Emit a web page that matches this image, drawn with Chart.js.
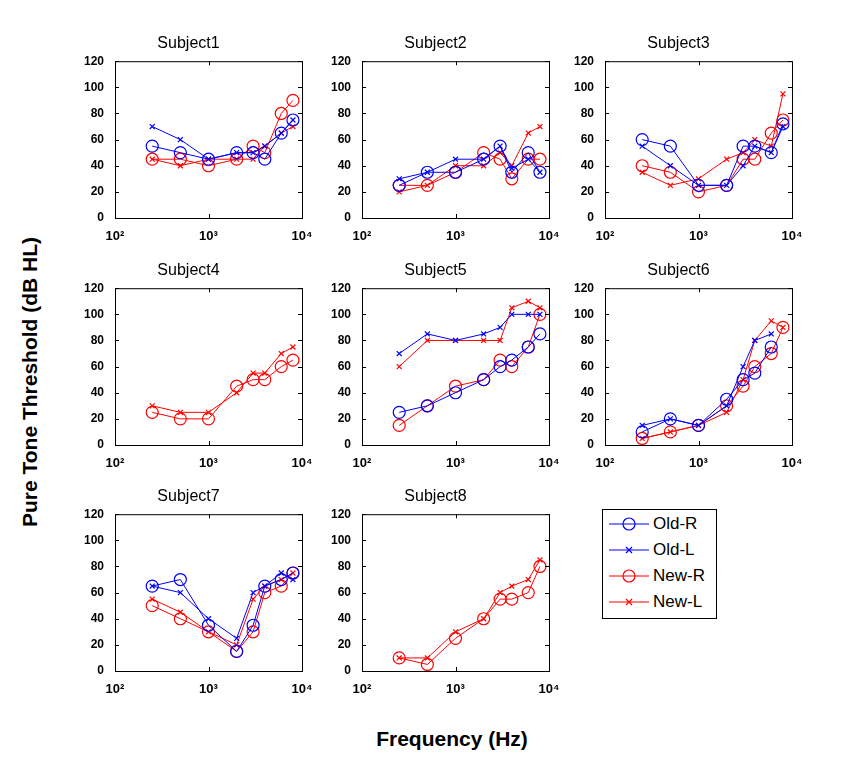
<!DOCTYPE html>
<html><head><meta charset="utf-8">
<script src="https://cdn.jsdelivr.net/npm/chart.js@4/dist/chart.umd.min.js"></script>
<style>
body{margin:0;background:#fff;font-family:Arial,"Liberation Sans",sans-serif;}
.p{position:absolute;}
#ylab{position:absolute;left:-120px;top:370px;width:300px;text-align:center;transform:rotate(-90deg);font-weight:bold;font-size:21px;}
#xlab{position:absolute;left:302px;top:727px;width:300px;text-align:center;font-weight:bold;font-size:21px;}
#leg{position:absolute;left:602px;top:509px;width:113px;height:108px;border:1px solid #000;font-size:17px;}
#leg div{height:24px;margin-top:2px;display:flex;align-items:center;}
#leg svg{margin:0 4px 0 6px}
</style></head><body>
<div id="ylab">Pure Tone Threshold (dB HL)</div>
<div id="xlab">Frequency (Hz)</div>
<div id="leg"></div>
<script>
const freqs = [250, 500, 1000, 2000, 3000, 4000, 6000, 8000];
const subjects = ["Subject1","Subject2","Subject3","Subject4","Subject5","Subject6","Subject7","Subject8"];
const oldR = [
  [55,50,45,50,50,45,65,75],[25,35,35,45,55,35,50,35],[60,55,25,25,55,55,50,72],null,
  [25,30,40,50,60,65,75,85],[10,20,15,35,50,55,75,null],[65,70,35,15,35,65,70,75],null];
const oldL = [
  [70,60,45,50,50,55,65,75],[30,35,45,45,55,38,45,35],[55,40,25,25,40,55,50,70],null,
  [70,85,80,85,90,100,100,100],[15,20,15,30,60,80,85,null],[65,60,40,25,60,65,75,70],null];
const newR = [
  [45,45,40,45,55,50,80,90],[25,25,35,50,45,30,45,45],[40,35,20,25,45,45,65,75],[25,20,20,45,50,50,60,65],
  [15,30,45,50,65,60,75,100],[5,10,15,30,45,60,70,90],[50,40,30,15,30,60,65,75],[10,5,25,40,55,55,60,80]];
const newL = [
  [45,40,45,45,45,55,65,70],[20,25,40,40,50,40,65,70],[35,25,30,45,50,60,55,95],[30,25,25,40,55,55,70,75],
  [60,80,80,80,80,105,110,105],[5,10,15,25,50,80,95,90],[55,45,30,20,55,65,70,75],[10,10,30,40,60,65,70,85]];
const seriesNames = ["Old-R","Old-L","New-R","New-L"];
const colors = ["#0000ff","#0000ff","#ff0000","#ff0000"];
const styles = ["circle","crossRot","circle","crossRot"];
const radii = [6,3.5,6,3.5];
const xTickText = {100:"10²",1000:"10³",10000:"10⁴"};

const positions = [[75,30],[322,30],[565,30],[75,257],[322,257],[565,257],[75,483],[322,483]];

const boxPlugin = {
  id:"box",
  afterDraw(c){
    const a=c.chartArea, ctx=c.ctx;
    ctx.save();ctx.strokeStyle="#000";ctx.lineWidth=1;
    ctx.strokeRect(a.left+0.5,a.top+0.5,a.right-a.left,a.bottom-a.top);
    const ys=c.scales.y, xs=c.scales.x;
    ctx.beginPath();
    for(let v=0;v<=120;v+=20){const y=Math.round(ys.getPixelForValue(v))+0.5;
      ctx.moveTo(a.left,y);ctx.lineTo(a.left+4,y);ctx.moveTo(a.right,y);ctx.lineTo(a.right-4,y);}
    [100,1000,10000].forEach(v=>{const x=Math.round(xs.getPixelForValue(v))+0.5;
      ctx.moveTo(x,a.bottom);ctx.lineTo(x,a.bottom-4);ctx.moveTo(x,a.top);ctx.lineTo(x,a.top+4);});
    ctx.stroke();ctx.restore();
  }
};

subjects.forEach((name,i)=>{
  const cv=document.createElement("canvas");
  cv.className="p";cv.width=241;cv.height=216;
  cv.style.left=positions[i][0]+"px";cv.style.top=positions[i][1]+"px";
  document.body.appendChild(cv);
  const all=[oldR[i],oldL[i],newR[i],newL[i]];
  const datasets=[];
  all.forEach((vals,k)=>{
    if(!vals) return;
    datasets.push({label:seriesNames[k],
      data:freqs.map((f,j)=>({x:f,y:vals[j]})).filter(p=>p.y!==null),
      borderColor:colors[k],backgroundColor:"transparent",borderWidth:1,
      pointStyle:styles[k],pointRadius:radii[k],pointBorderColor:colors[k],pointBorderWidth:1.2});
  });
  new Chart(cv,{type:"line",data:{datasets},plugins:[boxPlugin],
    options:{responsive:false,animation:false,
      layout:{padding:{right:14,top:0}},
      plugins:{legend:{display:false},tooltip:{enabled:false},
        title:{display:true,text:name,color:"#000",font:{size:16,family:"Arial",weight:"normal"},padding:{top:4,bottom:8}}},
      scales:{
        x:{type:"logarithmic",min:100,max:10000,
          afterBuildTicks(s){s.ticks=[100,1000,10000].map(v=>({value:v}));},
          afterFit(s){s.height=28;},
          ticks:{color:"#000",font:{size:13,weight:"bold"},maxRotation:0,autoSkip:false,
            callback:v=>xTickText[v]||""},
          grid:{display:false},border:{display:false}},
        y:{min:0,max:120,afterFit(s){s.width=40;},
          ticks:{stepSize:20,color:"#000",font:{size:12,weight:"bold"}},
          grid:{display:false},border:{display:false}}
      }}});
});

// legend
const leg=document.getElementById("leg");
seriesNames.forEach((n,k)=>{
  const marker=styles[k]==="circle"
    ?`<circle cx="20" cy="8" r="6" fill="none" stroke="${colors[k]}" stroke-width="1.2"/>`
    :`<path d="M17 5L23 11M23 5L17 11" stroke="${colors[k]}" stroke-width="1.2"/>`;
  leg.insertAdjacentHTML("beforeend",
    `<div><svg width="40" height="16"><line x1="0" y1="8" x2="40" y2="8" stroke="${colors[k]}"/>${marker}</svg>${n}</div>`);
});
</script>
</body></html>
